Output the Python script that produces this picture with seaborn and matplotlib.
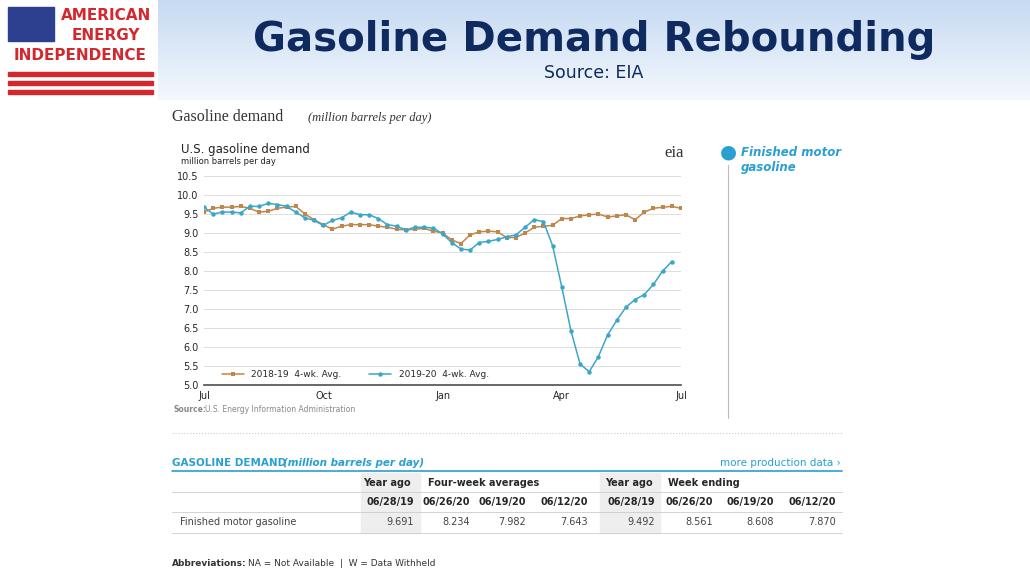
import matplotlib
matplotlib.use("Agg")
import matplotlib.pyplot as plt
import seaborn as sns
import numpy as np
import pandas as pd
from matplotlib.patches import Rectangle

sns.set_theme(style="white")
plt.rcParams['font.family'] = ['DejaVu Sans']

demand_2018_19 = [9.55, 9.65, 9.68, 9.68, 9.70, 9.65, 9.55, 9.57, 9.65, 9.68, 9.70, 9.50, 9.35, 9.22,
                  9.10, 9.18, 9.22, 9.22, 9.22, 9.18, 9.15, 9.10, 9.08, 9.10, 9.12, 9.05, 9.00, 8.82,
                  8.72, 8.95, 9.03, 9.05, 9.03, 8.88, 8.88, 9.00, 9.15, 9.18, 9.20, 9.38, 9.38, 9.45,
                  9.48, 9.50, 9.42, 9.45, 9.48, 9.35, 9.55, 9.65, 9.68, 9.70, 9.65]
demand_2019_20 = [9.68, 9.50, 9.55, 9.55, 9.53, 9.70, 9.70, 9.78, 9.75, 9.70, 9.55, 9.40, 9.33, 9.20,
                  9.33, 9.40, 9.55, 9.48, 9.48, 9.38, 9.22, 9.18, 9.08, 9.15, 9.15, 9.13, 8.98, 8.75,
                  8.58, 8.55, 8.75, 8.78, 8.83, 8.90, 8.95, 9.15, 9.35, 9.30, 8.67, 7.58, 6.43, 5.55,
                  5.35, 5.75, 6.32, 6.70, 7.05, 7.25, 7.38, 7.65, 8.00, 8.25]
month_labels = ["Jul", "Oct", "Jan", "Apr", "Jul"]
month_pos = [0, 13.1, 26.1, 39.0, 52]
y_ticks = [5.0, 5.5, 6.0, 6.5, 7.0, 7.5, 8.0, 8.5, 9.0, 9.5, 10.0, 10.5]

table_cols = ["06/28/19", "06/26/20", "06/19/20", "06/12/20", "06/28/19", "06/26/20", "06/19/20", "06/12/20"]
table_vals = ["9.691", "8.234", "7.982", "7.643", "9.492", "8.561", "8.608", "7.870"]

W, H = 1030, 579
fig = plt.figure(figsize=(W/100, H/100), dpi=100)
fig.patch.set_facecolor("white")

def fx(px): return px / W
def fy(py): return 1 - py / H

# header band
bg = fig.add_axes([0, fy(100), 1, 100/H])
grad = np.linspace(0, 1, 100)[:, None]
bg.imshow(grad, aspect="auto", cmap=matplotlib.colors.LinearSegmentedColormap.from_list("g", ["#c6daf2", "#f4f8fd"]),
          extent=[0, 1, 0, 1])
bg.axis("off")

# logo
lg = fig.add_axes([0, fy(100), fx(158), 100/H])
lg.set_xlim(0, 158); lg.set_ylim(100, 0); lg.axis("off")
lg.add_patch(Rectangle((0, 0), 158, 100, color="white"))
lg.add_patch(Rectangle((8, 7), 46, 34, color="#2d3f8f"))
for i in range(3):
    lg.add_patch(Rectangle((8, 72 + i*9), 145, 4, color="#d4282f"))
fig.text(fx(106), fy(15), "AMERICAN", color="#d4282f", fontsize=11, fontweight="bold", ha="center", va="center")
fig.text(fx(106), fy(35), "ENERGY", color="#d4282f", fontsize=11, fontweight="bold", ha="center", va="center")
fig.text(fx(80), fy(55), "INDEPENDENCE", color="#d4282f", fontsize=11, fontweight="bold", ha="center", va="center")

fig.text(fx(594), fy(40), "Gasoline Demand Rebounding", color="#0f2a5e", fontsize=29, fontweight="bold", ha="center", va="center")
fig.text(fx(594), fy(73), "Source: EIA", color="#0f2a5e", fontsize=12.5, ha="center", va="center")

fig.text(fx(172), fy(117), "Gasoline demand", fontsize=11.5, family="Liberation Serif", color="#333333", va="center")
fig.text(fx(308), fy(118), "(million barrels per day)", fontsize=9, family="Liberation Serif", style="italic", color="#333333", va="center")
fig.text(fx(181), fy(149), "U.S. gasoline demand", fontsize=8.5, color="#222222", va="center")
fig.text(fx(181), fy(161), "million barrels per day", fontsize=6, color="#222222", va="center")
fig.text(fx(664), fy(153), "eia", fontsize=12, color="#333333", va="center", family="Liberation Serif")
fig.text(fx(173), fy(409), "Source:", fontsize=5.5, color="#888888", fontweight="bold", va="center")
fig.text(fx(205), fy(409), "U.S. Energy Information Administration", fontsize=5.5, color="#888888", va="center")

# sidebar
fig.text(fx(728), fy(152), "\u25CF", fontsize=14, color="#2a9fd0", ha="center", va="center")
fig.text(fx(741), fy(152), "Finished motor", fontsize=8.5, color="#2a9fd0", fontweight="bold", style="italic", va="center")
fig.text(fx(741), fy(168), "gasoline", fontsize=8.5, color="#2a9fd0", fontweight="bold", style="italic", va="center")
fig.add_artist(plt.Line2D([fx(728), fx(728)], [fy(165), fy(418)], color="#bbbbbb", lw=0.8))

# chart
ax = fig.add_axes([fx(204), fy(385), fx(681-204), (385-176)/H])
df1 = pd.DataFrame({"x": np.arange(len(demand_2018_19)), "y": demand_2018_19})
df2 = pd.DataFrame({"x": np.arange(len(demand_2019_20)), "y": demand_2019_20})
sns.lineplot(data=df1, x="x", y="y", ax=ax, color="#c0864a", lw=1.1, marker="s", markersize=3.2,
             markeredgewidth=0, label="2018-19  4-wk. Avg.")
sns.lineplot(data=df2, x="x", y="y", ax=ax, color="#3aa6c8", lw=1.1, marker="o", markersize=3.2,
             markeredgewidth=0, label="2019-20  4-wk. Avg.")
ax.set_xlim(0, 52); ax.set_ylim(5.0, 10.5)
ax.set_yticks(y_ticks)
ax.set_yticklabels([f"{t:.1f}" for t in y_ticks], fontsize=7)
ax.set_xticks(month_pos)
ax.set_xticklabels(month_labels, fontsize=7)
ax.tick_params(axis="x", length=3, color="#555555", pad=1)
ax.tick_params(axis="y", length=0, pad=4)
ax.grid(axis="y", color="#dddddd", lw=0.7)
ax.set_xlabel(""); ax.set_ylabel("")
for s in ["top", "right", "left"]:
    ax.spines[s].set_visible(False)
ax.spines["bottom"].set_color("#555555")
ax.legend(loc="lower left", ncol=2, frameon=False, fontsize=6.5, bbox_to_anchor=(0.02, -0.01),
          handlelength=2.5, columnspacing=3)

# separator dotted
fig.add_artist(plt.Line2D([fx(172), fx(842)], [fy(433), fy(433)], color="#cccccc", lw=0.8, ls=":"))

# table
fig.text(fx(172), fy(463), "GASOLINE DEMAND", fontsize=7.5, color="#2a9fd0", fontweight="bold", va="center")
fig.text(fx(283), fy(463), "(million barrels per day)", fontsize=7.5, color="#2a9fd0", fontweight="bold", style="italic", va="center")
fig.text(fx(841), fy(463), "more production data \u203a", fontsize=7.5, color="#2a9fd0", ha="right", va="center")
fig.add_artist(plt.Line2D([fx(172), fx(842)], [fy(471), fy(471)], color="#2a9fd0", lw=1.2))
for x0, x1 in [(361, 420), (600, 660)]:
    fig.add_artist(Rectangle((fx(x0), fy(533)), fx(x1-x0), (533-473)/H, color="#eeeeee", zorder=0))
fig.text(fx(411), fy(483), "Year ago", fontsize=7, fontweight="bold", ha="right", va="center")
fig.text(fx(428), fy(483), "Four-week averages", fontsize=7, fontweight="bold", va="center")
fig.text(fx(653), fy(483), "Year ago", fontsize=7, fontweight="bold", ha="right", va="center")
fig.text(fx(668), fy(483), "Week ending", fontsize=7, fontweight="bold", va="center")
col_x = [414, 470, 526, 588, 655, 713, 774, 836]
for cx, c, v in zip(col_x, table_cols, table_vals):
    fig.text(fx(cx), fy(502), c, fontsize=7, fontweight="bold", ha="right", va="center")
    fig.text(fx(cx), fy(522), v, fontsize=7, color="#444444", ha="right", va="center")
fig.text(fx(180), fy(522), "Finished motor gasoline", fontsize=7, color="#444444", va="center")
for yy in [492, 512, 533]:
    fig.add_artist(plt.Line2D([fx(172), fx(842)], [fy(yy), fy(yy)], color="#cccccc", lw=0.6))
fig.text(fx(172), fy(563), "Abbreviations:", fontsize=6.5, fontweight="bold", color="#333333", va="center")
fig.text(fx(248), fy(563), "NA = Not Available  |  W = Data Withheld", fontsize=6.5, color="#333333", va="center")

fig.savefig("out.png", dpi=100)
